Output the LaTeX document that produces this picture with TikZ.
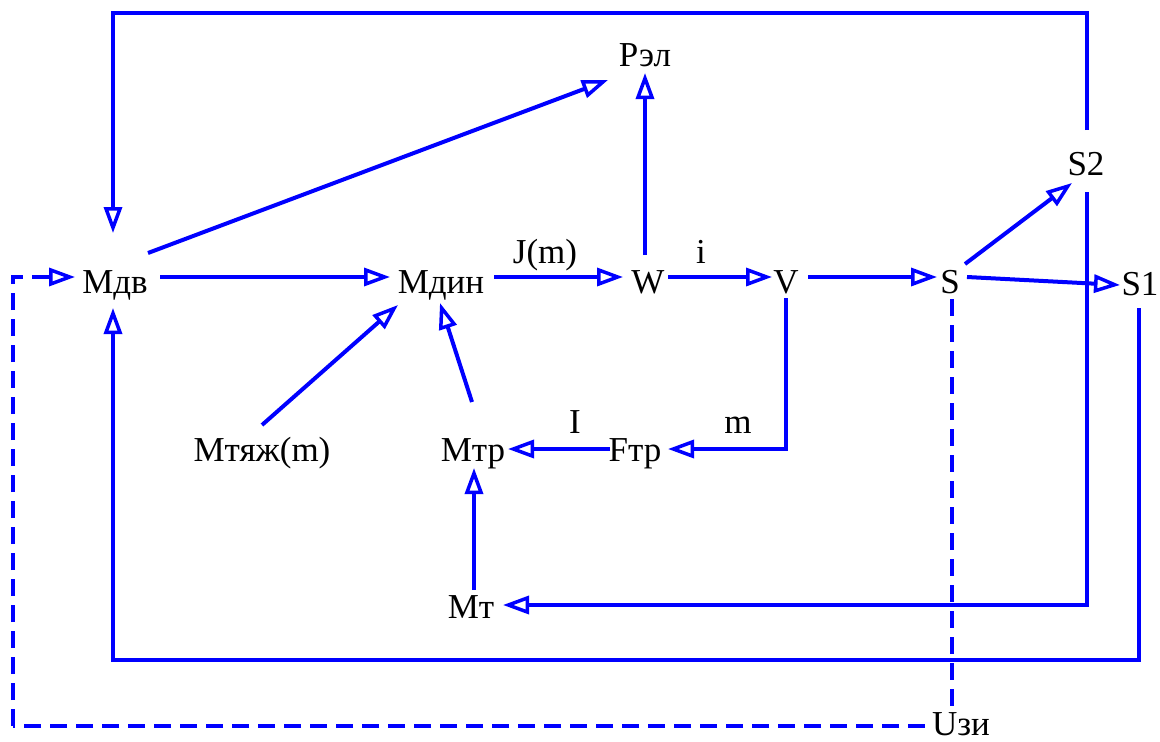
\documentclass[tikz,border=0pt]{standalone}
\usepackage{fontspec}
\setmainfont{Liberation Serif}
\usetikzlibrary{arrows.meta,calc}
\begin{document}
\begin{tikzpicture}[x=1pt,y=-1pt,
  lbl/.style={inner sep=0pt,anchor=base,font=\fontsize{35}{40}\selectfont},
  ln/.style={draw=blue,line width=4pt,line join=miter},
  tip/.style={-{Triangle[open,length=26pt,width=18pt,line width=3.5pt]}},
  arr/.style={ln,tip},
  dsh/.style={ln,dash pattern=on 17pt off 9pt}]
\useasboundingbox (0,0) rectangle (1160,742);
% nodes (base points)
\node[lbl] (mdv)  at (115,293) {Мдв};
\node[lbl] (mdin) at (441,293) {Мдин};
\node[lbl] (w)    at (648,293) {W};
\node[lbl] (v)    at (786,293) {V};
\node[lbl] (s)    at (950,293) {S};
\node[lbl] (s1)   at (1140,295) {S1};
\node[lbl] (s2)   at (1086,175) {S2};
\node[lbl] (rel)  at (645,66) {Рэл};
\node[lbl] (mtyazh) at (262,461) {Мтяж(m)};
\node[lbl] (mtr)  at (473,461) {Мтр};
\node[lbl] (ftr)  at (635,461) {Fтр};
\node[lbl] (mt)   at (471,618) {Мт};
\node[lbl] (uzi)  at (961,735) {Uзи};
\node[lbl] (lJ)   at (545,263) {J(m)};
\node[lbl] (li)   at (701,263) {i};
\node[lbl] (lI)   at (575,433) {I};
\node[lbl] (lm)   at (738,433) {m};
% main forward chain
\draw[arr] ($(mdv.base)+(45,-16)$) -- ($(mdin.base)+(-51,-16)$);
\draw[arr] ($(mdin.base)+(53,-16)$) -- ($(w.base)+(-25,-16)$);
\draw[arr] ($(w.base)+(20,-16)$) -- ($(v.base)+(-14,-16)$);
\draw[arr] ($(v.base)+(22,-16)$) -- ($(s.base)+(-13,-16)$);
\draw[arr] ($(s.base)+(17,-16)$) -- ($(s1.base)+(-20,-10)$);
\draw[arr] ($(s.base)+(15,-29)$) -- ($(s2.base)+(-14,8)$);
% to Рэл
\draw[arr] ($(mdv.base)+(33,-40)$) -- ($(rel.base)+(-37,14)$);
\draw[arr] ($(w.base)+(-3,-38)$) -- ($(rel.base)+(0,7)$);
% into Мдин from below
\draw[arr] ($(mtyazh.base)+(0,-36)$) -- ($(mdin.base)+(-43,12)$);
\draw[arr] ($(mtr.base)+(-1,-59)$) -- ($(mdin.base)+(-1,10)$);
% friction chain
\draw[arr] ($(v.base)+(0,5)$) |- ($(ftr.base)+(33,-12)$);
\draw[arr] ($(ftr.base)+(-25,-12)$) -- ($(mtr.base)+(35,-12)$);
\draw[arr] ($(mt.base)+(3,-28)$) -- ($(mtr.base)+(1,7)$);
% S2 feedback loops
\coordinate (s2top) at ($(s2.base)+(1,-162)$);
\coordinate (s2bot) at ($(s2.base)+(1,430)$);
\draw[arr] ($(s2.base)+(1,-45)$) -- (s2top) -| ($(mdv.base)+(-2,-60)$);
\draw[arr] ($(s2.base)+(1,17)$) -- (s2bot) -- ($(mt.base)+(32,-13)$);
% S1 feedback
\coordinate (s1bot) at ($(s1.base)+(-1,365)$);
\draw[arr] ($(s1.base)+(-1,13)$) -- (s1bot) -| ($(mdv.base)+(-2,15)$);
% dashed Uзи
\draw[dsh] ($(s.base)+(2,6)$) -- ($(uzi.base)+(-9,-21)$);
\coordinate (dl) at ($(uzi.base)+(-948,-9)$);
\draw[dsh] ($(uzi.base)+(-36,-9)$) -- (dl);
\draw[dsh,tip] (dl) |- ($(mdv.base)+(-40,-16)$);
\end{tikzpicture}
\end{document}
